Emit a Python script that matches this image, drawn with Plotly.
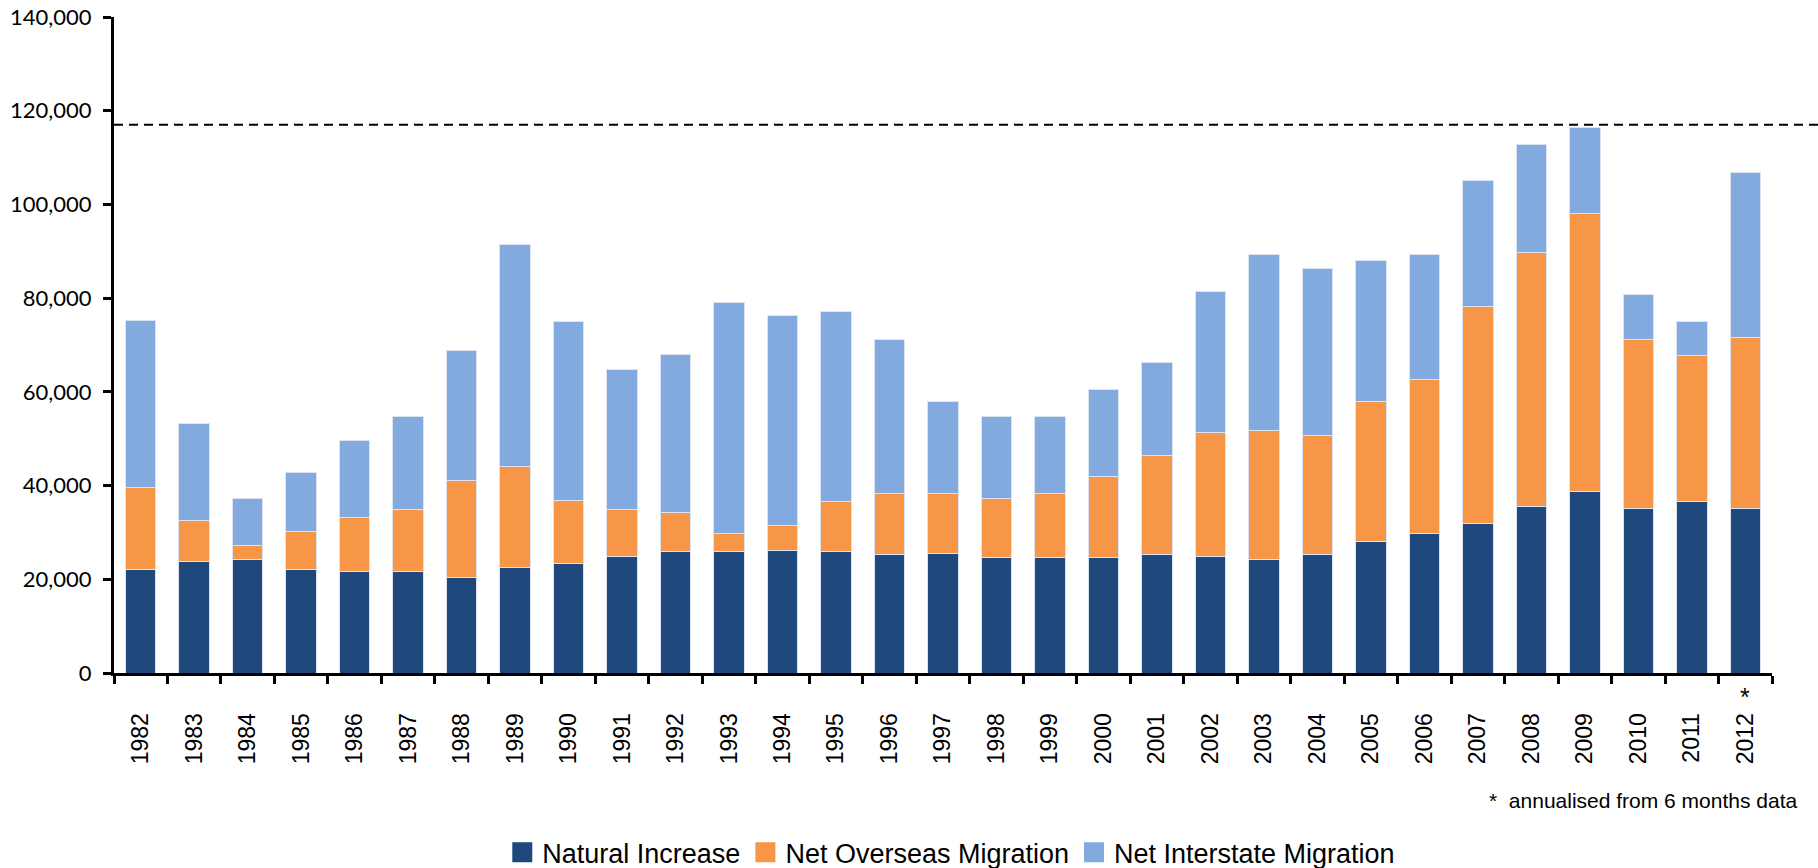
import plotly.graph_objects as go

years = [str(y) for y in range(1982, 2013)]
natural_increase = [22120, 23820, 24150, 22120, 21690, 21690, 20470, 22440, 23420, 24890,
                    25880, 25880, 26200, 25880, 25300, 25530, 24550, 24550, 24550, 25300,
                    24890, 24150, 25300, 27990, 29700, 31840, 35510, 38630, 35190, 36580, 35190]
net_overseas = [17560, 8680, 3110, 8010, 11450, 13180, 20530, 21660, 13480, 9980,
                8330, 3820, 5320, 10700, 12930, 12700, 12690, 13680, 17440, 21090,
                26410, 27560, 25430, 29940, 32890, 46280, 54230, 59360, 36070, 31240, 36310]
net_interstate = [35580, 20850, 9980, 12670, 16520, 19870, 27800, 47350, 38120, 29830,
                  33840, 49400, 44810, 40470, 33030, 19610, 17500, 16510, 18540, 19960,
                  30170, 37690, 35660, 30080, 26810, 27070, 22970, 18480, 9550, 7260, 35400]
reference_line = 117000
annualised_year = "2012"
series_names = ["Natural Increase", "Net Overseas Migration", "Net Interstate Migration"]
colors = ["#1F497D", "#F79646", "#82AADF"]
footnote = "*  annualised from 6 months data"

fig = go.Figure()
for name, vals, col in zip(series_names, [natural_increase, net_overseas, net_interstate], colors):
    fig.add_trace(go.Bar(
        x=years, y=vals, name=name,
        marker=dict(color=col, line=dict(color="#DCE4F2", width=1)),
        showlegend=False,
    ))
for name, col in zip(series_names, colors):
    fig.add_trace(go.Scatter(
        x=[years[0]], y=[None], mode="markers", name=name,
        marker=dict(symbol="square", size=16, color=col, line=dict(color=col, width=4)),
        showlegend=True, hoverinfo="skip",
    ))

fig.add_shape(type="line", xref="paper", yref="y", x0=0, x1=1.03,
              y0=reference_line, y1=reference_line,
              line=dict(color="black", width=2, dash="9px,6px"))

fig.add_annotation(x=years.index(annualised_year), xref="x", y=-0.036, yref="paper", text="*",
                   showarrow=False,
                   font=dict(family="Arial, Liberation Sans", size=25, color="black"),
                   yanchor="middle")
fig.add_annotation(x=1.017, xref="paper", y=-0.194, yref="paper", text=footnote, showarrow=False,
                   xanchor="right", yanchor="middle",
                   font=dict(family="Arial, Liberation Sans", size=21, color="black"))

fig.update_layout(
    width=1818, height=868,
    margin=dict(l=114, r=46, t=17, b=195, autoexpand=False),
    plot_bgcolor="white", paper_bgcolor="white",
    barmode="stack", bargap=0.43,
    legend=dict(orientation="h", x=0.505, xanchor="center", y=-0.274, yanchor="middle",
                font=dict(family="Arial, Liberation Sans", size=27, color="black"),
                traceorder="normal", itemwidth=30, tracegroupgap=0),
)
fig.update_xaxes(
    type="category", categoryorder="array", categoryarray=years,
    range=[-0.5, len(years) - 0.5], automargin=False,
    tickangle=-90, tickson="boundaries",
    ticks="outside", ticklen=8, tickwidth=3, tickcolor="black",
    showline=True, linecolor="black", linewidth=3, showgrid=False,
    tickfont=dict(family="Arial, Liberation Sans", size=23, color="black"),
    ticklabelstandoff=28,
)
fig.update_yaxes(
    range=[0, 140000], dtick=20000, tickformat=",", automargin=False,
    ticks="outside", ticklen=8, tickwidth=3, tickcolor="black",
    showline=True, linecolor="black", linewidth=3, showgrid=False, zeroline=False,
    tickfont=dict(family="Lato", size=22, color="black"),
    ticklabelstandoff=7, ticklabeloverflow="allow",
)

fig.write_html(
    "out.html",
    config={"displayModeBar": False},
    post_script="document.body.style.margin='0';document.body.style.overflow='hidden';",
)
